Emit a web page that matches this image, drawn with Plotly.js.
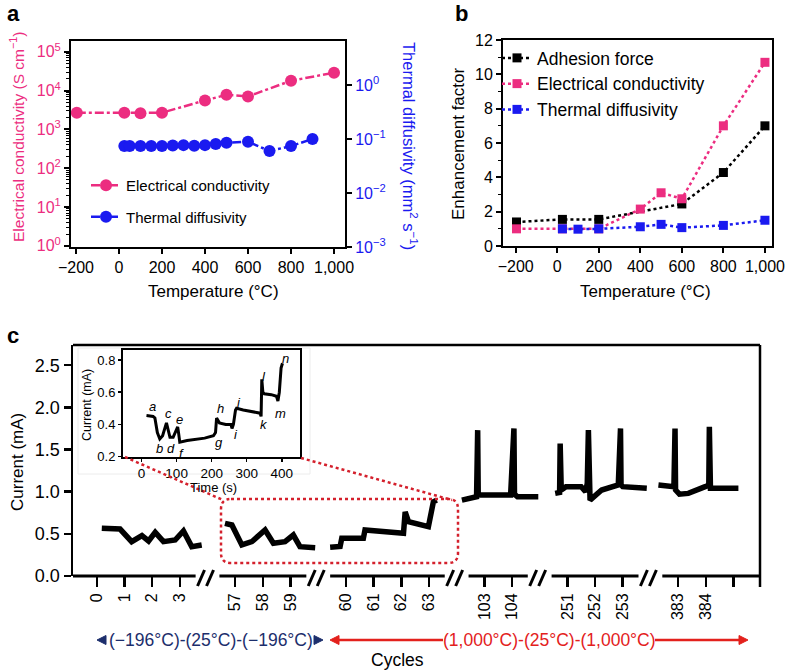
<!DOCTYPE html>
<html><head><meta charset="utf-8">
<script src="https://cdn.plot.ly/plotly-3.0.1.min.js"></script>
<style>body{margin:0;background:#fff}#chart{width:788px;height:670px}</style>
</head><body><div id="chart"></div><script>
// ---------- Panel a ----------
const aTempEC = [-196, 25, 100, 200, 400, 500, 600, 800, 1000];
const aEC = [2700, 2700, 2600, 2700, 5600, 7800, 7100, 18000, 29000];
const aTempTD = [25, 50, 100, 150, 200, 250, 300, 350, 400, 450, 500, 600, 700, 800, 900];
const aTD = [0.074, 0.074, 0.074, 0.074, 0.074, 0.076, 0.077, 0.075, 0.077, 0.081, 0.085, 0.089, 0.060, 0.074, 0.100];
const aLeftTickVals = [1, 10, 100, 1000, 10000, 100000];
const aLeftTickText = ['10<sup>0</sup>','10<sup>1</sup>','10<sup>2</sup>','10<sup>3</sup>','10<sup>4</sup>','10<sup>5</sup>'];
const aRightTickVals = [0.001, 0.01, 0.1, 1];
const aRightTickText = ['10<sup>\u22123</sup>','10<sup>\u22122</sup>','10<sup>\u22121</sup>','10<sup>0</sup>'];
// ---------- Panel b ----------
const bTempAdh = [-196, 25, 200, 600, 800, 1000];
const bAdh = [1.4, 1.55, 1.55, 2.45, 4.28, 7.0];
const bTempEC = [-196, 25, 200, 400, 500, 600, 800, 1000];
const bEC = [1.0, 1.0, 1.0, 2.15, 3.1, 2.75, 7.0, 10.7];
const bTempTD = [25, 100, 200, 400, 500, 600, 800, 1000];
const bTD = [1.0, 0.98, 1.0, 1.12, 1.26, 1.07, 1.2, 1.5];
const tempTickVals = [-200, 0, 200, 400, 600, 800, 1000];
const tempTickText = ['\u2212200','0','200','400','600','800','1,000'];
// ---------- Panel c ----------
const cycleTickPos = [0,1,2,3,5,6,7,9,10,11,12,14,15,17,18,19,21,22,23];
const cycleTickText = ['0','1','2','3','57','58','59','60','61','62','63','103','104','251','252','253','383','384',''];
const axisBreaks = [4, 8, 13, 16, 20];
const segA_x = [0.18, 0.84, 1.26, 1.63, 1.87, 2.11, 2.41, 2.83, 3.13, 3.43, 3.79];
const segA_y = [0.566, 0.557, 0.407, 0.478, 0.415, 0.518, 0.407, 0.427, 0.534, 0.348, 0.368];
const segB_x = [4.63, 4.88, 5.24, 5.6, 6.08, 6.38, 6.8, 7.1, 7.34, 7.89];
const segB_y = [0.625, 0.605, 0.368, 0.407, 0.546, 0.388, 0.407, 0.486, 0.348, 0.336];
const segC_x = [8.43, 8.79, 8.85, 9.63, 9.69, 10.4, 11.08, 11.14, 11.26, 11.98, 12.16, 12.28];
const segC_y = [0.34, 0.35, 0.447, 0.447, 0.546, 0.525, 0.506, 0.76, 0.644, 0.585, 0.88, 0.90];
const segD_x = [13.19, 13.72, 13.76, 13.78, 13.86, 14.95, 15.07, 15.09, 15.2, 15.95];
const segD_y = [0.90, 0.94, 1.73, 0.97, 0.96, 0.96, 1.75, 0.97, 0.94, 0.94];
const segE_x = [16.56, 16.72, 16.74, 16.78, 16.95, 17.5, 17.66, 17.72, 17.76, 17.82, 18.24, 18.84, 18.92, 18.94, 19.0, 19.87];
const segE_y = [0.98, 0.99, 1.57, 1.02, 1.06, 1.06, 1.0, 1.1, 1.73, 0.90, 1.02, 1.08, 1.75, 1.08, 1.06, 1.04];
const segF_x = [20.29, 20.85, 20.89, 20.91, 21.05, 21.37, 21.98, 22.11, 22.13, 22.17, 23.18];
const segF_y = [1.08, 1.06, 1.75, 1.02, 0.97, 0.98, 1.06, 1.08, 1.77, 1.04, 1.04];
// ---------- Inset ----------
const insetTime = [14, 33, 38, 45, 52, 60, 71, 76, 81, 90, 103, 106, 109, 130, 150, 180, 205, 211, 214, 222, 240, 255, 258, 262, 268, 271, 290, 320, 338, 341, 343, 346, 350, 370, 385, 389, 393, 398, 402];
const insetCurrent = [0.455, 0.45, 0.44, 0.35, 0.31, 0.33, 0.41, 0.36, 0.32, 0.32, 0.385, 0.34, 0.29, 0.30, 0.305, 0.315, 0.33, 0.35, 0.44, 0.41, 0.40, 0.40, 0.375, 0.40, 0.49, 0.50, 0.49, 0.48, 0.47, 0.45, 0.68, 0.60, 0.59, 0.585, 0.575, 0.545, 0.60, 0.75, 0.78];
const insetLabels = ['a','b','c','d','e','f','g','h','i','j','k','l','m','n'];
const insetLabelTime = [31, 50, 76, 83, 107, 114, 221, 226, 268, 274, 350, 348, 395, 412];
const insetLabelCurrent = [0.51, 0.25, 0.465, 0.25, 0.43, 0.22, 0.29, 0.50, 0.335, 0.535, 0.40, 0.70, 0.47, 0.81];

// ---------- helpers ----------
const W = 788, H = 670;
const px = v => v / W;
const py = v => 1 - v / H;
const FONT = 'Arial, "Liberation Sans", sans-serif';
const PINK = '#ec2d80', BLUE = '#1a1af0', NAVY = '#1c2e6c', RED = '#e3211c', DRED = '#d4202c';

const traces = [
  {x: aTempEC, y: aEC, xaxis: 'x', yaxis: 'y', type: 'scatter', mode: 'lines+markers',
   name: 'Electrical conductivity', legend: 'legend', legendgroup: 'a1',
   line: {color: PINK, width: 2.5, dash: 'dashdot'}, marker: {color: PINK, size: 12, symbol: 'circle'}},
  {x: aTempTD, y: aTD, xaxis: 'x', yaxis: 'y2', type: 'scatter', mode: 'lines+markers',
   name: 'Thermal diffusivity', legend: 'legend', legendgroup: 'a2',
   line: {color: BLUE, width: 2.5, dash: 'dashdot'}, marker: {color: BLUE, size: 12, symbol: 'circle'}},
  {x: bTempAdh, y: bAdh, xaxis: 'x2', yaxis: 'y3', type: 'scatter', mode: 'lines+markers',
   name: 'Adhesion force', legend: 'legend2', legendgroup: 'b1',
   line: {color: '#000', width: 2.5, dash: 'dot'}, marker: {color: '#000', size: 9, symbol: 'square'}},
  {x: bTempEC, y: bEC, xaxis: 'x2', yaxis: 'y3', type: 'scatter', mode: 'lines+markers',
   name: 'Electrical conductivity', legend: 'legend2', legendgroup: 'b2',
   line: {color: PINK, width: 2.5, dash: 'dot'}, marker: {color: PINK, size: 9, symbol: 'square'}},
  {x: bTempTD, y: bTD, xaxis: 'x2', yaxis: 'y3', type: 'scatter', mode: 'lines+markers',
   name: 'Thermal diffusivity', legend: 'legend2', legendgroup: 'b3',
   line: {color: BLUE, width: 2.5, dash: 'dot'}, marker: {color: BLUE, size: 9, symbol: 'square'}}
];
[[segA_x, segA_y],[segB_x, segB_y],[segC_x, segC_y],[segD_x, segD_y],[segE_x, segE_y],[segF_x, segF_y]].forEach(s => {
  traces.push({x: s[0], y: s[1], xaxis: 'x3', yaxis: 'y4', type: 'scatter', mode: 'lines',
    showlegend: false, line: {color: '#000', width: 5.5}});
});
traces.push({x: insetTime, y: insetCurrent, xaxis: 'x4', yaxis: 'y5', type: 'scatter', mode: 'lines',
  showlegend: false, line: {color: '#000', width: 3}});

const baseAxis = {showgrid: false, zeroline: false, showline: true, linecolor: '#000', linewidth: 2,
  ticks: 'outside', tickcolor: '#000', tickwidth: 2, ticklen: 5, tickfont: {family: FONT, size: 16, color: '#000'}};

const cX0 = 73, cPxPerUnit = 27.68, cRange0 = -0.86;
const cpx = p => cX0 + (p - cRange0) * cPxPerUnit;

const shapes = [];
shapes.push({type: 'rect', xref: 'paper', yref: 'paper', x0: px(78), x1: px(310), y0: py(474), y1: py(348),
  fillcolor: '#fff', line: {color: '#ececec', width: 1}, layer: 'below'});
shapes.push({type: 'line', xref: 'paper', yref: 'paper', x0: px(73), x1: px(760), y0: py(345), y1: py(345), line: {color: '#000', width: 2.5}});
shapes.push({type: 'line', xref: 'paper', yref: 'paper', x0: px(760), x1: px(760), y0: py(345), y1: py(587), line: {color: '#000', width: 2.5}});
const gapHalf = 0.43;
let segStart = cRange0;
axisBreaks.concat([null]).forEach(b => {
  const end = b === null ? 23.96 : b - gapHalf;
  shapes.push({type: 'line', xref: 'paper', yref: 'paper', x0: px(cpx(segStart)), x1: px(cpx(end)), y0: py(576), y1: py(576), line: {color: '#000', width: 3}});
  if (b !== null) {
    const c = cpx(b);
    shapes.push({type: 'line', xref: 'paper', yref: 'paper', x0: px(c - 10), x1: px(c - 3), y0: py(586), y1: py(570), line: {color: '#000', width: 3}});
    shapes.push({type: 'line', xref: 'paper', yref: 'paper', x0: px(c - 1), x1: px(c + 6), y0: py(586), y1: py(570), line: {color: '#000', width: 3}});
    segStart = b + gapHalf;
  }
});
(function(){
  const L = 221, R = 458, T = 499, B = 563, r = 10;
  const P = (x, y) => px(x) + ',' + py(y);
  const path = 'M' + P(L + r, T) + ' L' + P(R - r, T) + ' Q' + P(R, T) + ' ' + P(R, T + r) +
    ' L' + P(R, B - r) + ' Q' + P(R, B) + ' ' + P(R - r, B) + ' L' + P(L + r, B) + ' Q' + P(L, B) + ' ' + P(L, B - r) +
    ' L' + P(L, T + r) + ' Q' + P(L, T) + ' ' + P(L + r, T) + ' Z';
  shapes.push({type: 'path', xref: 'paper', yref: 'paper', path: path, line: {color: DRED, width: 2.5, dash: 'dot'}});
})();
shapes.push({type: 'line', xref: 'paper', yref: 'paper', x0: px(125), y0: py(457), x1: px(223), y1: py(500), line: {color: DRED, width: 2.5, dash: 'dot'}});
shapes.push({type: 'line', xref: 'paper', yref: 'paper', x0: px(301), y0: py(458), x1: px(452), y1: py(500), line: {color: DRED, width: 2.5, dash: 'dot'}});
const ay = 640;
const tri = (tipX, dir, col) => {
  const P = (x, y) => px(x) + ',' + py(y);
  return {type: 'path', xref: 'paper', yref: 'paper', fillcolor: col, line: {color: col, width: 1},
    path: 'M' + P(tipX, ay) + ' L' + P(tipX + dir * 9, ay - 4.5) + ' L' + P(tipX + dir * 9, ay + 4.5) + ' Z'};
};
shapes.push(tri(97, 1, NAVY));
shapes.push(tri(323, -1, NAVY));
shapes.push(tri(330, 1, RED));
shapes.push(tri(748, -1, RED));
shapes.push({type: 'line', xref: 'paper', yref: 'paper', x0: px(336), x1: px(443), y0: py(ay), y1: py(ay), line: {color: RED, width: 2.5}});
shapes.push({type: 'line', xref: 'paper', yref: 'paper', x0: px(655), x1: px(742), y0: py(ay), y1: py(ay), line: {color: RED, width: 2.5}});

const ann = (x, y, text, opts) => Object.assign({xref: 'paper', yref: 'paper', x: px(x), y: py(y), text: text,
  showarrow: false, xanchor: 'center', yanchor: 'middle', font: {family: FONT, size: 17, color: '#000'}}, opts || {});

const annotations = [
  ann(13, 14, '<b>a</b>', {font: {family: FONT, size: 22, color: '#000'}}),
  ann(461, 14, '<b>b</b>', {font: {family: FONT, size: 22, color: '#000'}}),
  ann(13, 335, '<b>c</b>', {font: {family: FONT, size: 22, color: '#000'}}),
  ann(17, 137, 'Electrical conductivity (S cm<sup>\u22121</sup>)', {textangle: -90, font: {family: FONT, size: 15.5, color: PINK}}),
  ann(410, 146, 'Thermal diffusivity (mm<sup>2</sup> s<sup>\u22121</sup>)', {textangle: 90, font: {family: FONT, size: 16.5, color: BLUE}}),
  ann(214, 291, 'Temperature (\u00B0C)'),
  ann(458, 144, 'Enhancement factor', {textangle: -90}),
  ann(645, 291, 'Temperature (\u00B0C)'),
  ann(17, 462, 'Current (mA)', {textangle: -90}),
  ann(87, 405, 'Current (mA)', {textangle: -90, font: {family: FONT, size: 12.5, color: '#000'}}),
  ann(214, 487, 'Time (s)', {font: {family: FONT, size: 13, color: '#000'}}),
  ann(211, ay, '(\u2212196\u00B0C)-(25\u00B0C)-(\u2212196\u00B0C)', {font: {family: FONT, size: 17.5, color: NAVY}}),
  ann(549, ay, '(1,000\u00B0C)-(25\u00B0C)-(1,000\u00B0C)', {font: {family: FONT, size: 17.5, color: RED}}),
  ann(397, 660, 'Cycles', {font: {family: FONT, size: 17.5, color: '#000'}})
];
insetLabels.forEach((t, i) => annotations.push({xref: 'x4', yref: 'y5', x: insetLabelTime[i], y: insetLabelCurrent[i],
  text: '<i>' + t + '</i>', showarrow: false, font: {family: FONT, size: 13, color: '#000'}}));

const layout = {
  width: W, height: H, margin: {l: 0, r: 0, t: 0, b: 0},
  paper_bgcolor: '#fff', plot_bgcolor: 'rgba(0,0,0,0)',
  font: {family: FONT, size: 16, color: '#000'},
  hovermode: false,
  xaxis: Object.assign({}, baseAxis, {domain: [px(71), px(345)], range: [-223, 1051], anchor: 'y', mirror: true,
    tickmode: 'array', tickvals: tempTickVals, ticktext: tempTickText}),
  yaxis: Object.assign({}, baseAxis, {domain: [py(247), py(41)], type: 'log', range: [-0.03, 5.28], anchor: 'x',
    tickmode: 'array', tickvals: aLeftTickVals, ticktext: aLeftTickText, tickfont: {family: FONT, size: 16, color: PINK},
    minor: {ticks: 'outside', ticklen: 3, tickwidth: 1, tickcolor: '#000', dtick: 'D1', showgrid: false}}),
  yaxis2: Object.assign({}, baseAxis, {overlaying: 'y', side: 'right', type: 'log', range: [-3, 0.815], anchor: 'x',
    tickmode: 'array', tickvals: aRightTickVals, ticktext: aRightTickText, tickfont: {family: FONT, size: 16, color: BLUE}}),
  xaxis2: Object.assign({}, baseAxis, {domain: [px(503), px(772)], range: [-261, 1034], anchor: 'y3', mirror: true,
    tickmode: 'array', tickvals: tempTickVals, ticktext: tempTickText}),
  yaxis3: Object.assign({}, baseAxis, {domain: [py(246), py(40)], range: [0, 12], anchor: 'x2', mirror: true,
    tickmode: 'linear', tick0: 0, dtick: 2, minor: {ticks: 'outside', ticklen: 3, tickwidth: 1, tickcolor: '#000', dtick: 1, showgrid: false}}),
  xaxis3: Object.assign({}, baseAxis, {domain: [px(73), px(760)], range: [cRange0, 23.96], anchor: 'y4', showline: false,
    tickmode: 'array', tickvals: cycleTickPos, ticktext: cycleTickText, tickangle: -90, ticklen: 10, tickwidth: 2.5,
    tickfont: {family: FONT, size: 16, color: '#000'}}),
  yaxis4: Object.assign({}, baseAxis, {domain: [py(576), py(345)], range: [0, 2.74], anchor: 'x3', linewidth: 2.5,
    tickmode: 'array', tickvals: [0, 0.5, 1, 1.5, 2, 2.5], ticktext: ['0.0','0.5','1.0','1.5','2.0','2.5'], ticklen: 7, tickwidth: 2.5,
    tickfont: {family: FONT, size: 18, color: '#000'}}),
  xaxis4: Object.assign({}, baseAxis, {domain: [px(123), px(300)], range: [-53, 452], anchor: 'y5', mirror: true, linewidth: 2,
    tickmode: 'array', tickvals: [0, 100, 200, 300, 400], ticklen: 3, tickwidth: 1.5, tickfont: {family: FONT, size: 13.5, color: '#000'}}),
  yaxis5: Object.assign({}, baseAxis, {domain: [py(457), py(350)], range: [0.198, 0.862], anchor: 'x4', mirror: true, linewidth: 2,
    tickmode: 'array', tickvals: [0.2, 0.4, 0.6, 0.8], ticktext: ['0.2','0.4','0.6','0.8'], ticklen: 3, tickwidth: 1.5, tickfont: {family: FONT, size: 13, color: '#000'}}),
  legend: {x: px(86), y: py(169), xanchor: 'left', yanchor: 'top', bgcolor: 'rgba(0,0,0,0)', tracegroupgap: 9,
    font: {family: FONT, size: 15, color: '#000'}, itemwidth: 30},
  legend2: {x: px(497), y: py(40), xanchor: 'left', yanchor: 'top', bgcolor: 'rgba(0,0,0,0)', tracegroupgap: 0,
    font: {family: FONT, size: 17.5, color: '#000'}, itemwidth: 30},
  shapes: shapes,
  annotations: annotations
};

Plotly.newPlot('chart', traces, layout, {displayModeBar: false, staticPlot: true});
</script></body></html>
